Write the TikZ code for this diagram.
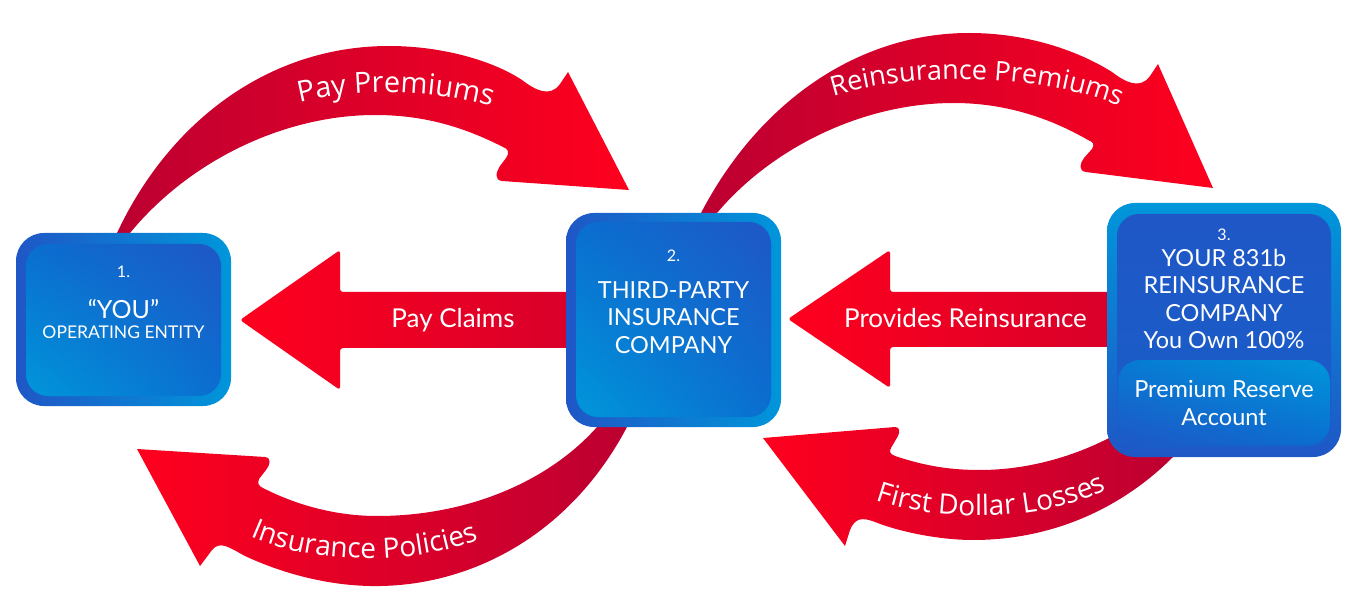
\documentclass[tikz,border=0pt]{standalone}
\usepackage{fontspec}
\setmainfont{Lato}
\newfontfamily\osans{Open Sans}
\usetikzlibrary{decorations.text,shadings}
\definecolor{rbright}{HTML}{FF001E}
\definecolor{rdark}{HTML}{BC0032}
\definecolor{bdark}{HTML}{1F57C6}
\definecolor{blight}{HTML}{0096DA}
\definecolor{bmid}{HTML}{0A6ED0}
\newcommand\setfs[1]{\fontsize{#1}{#1}\selectfont}
\begin{document}
\begin{tikzpicture}[x=1pt,y=-1pt,
  outerh/.style={rectangle, rounded corners=28pt, inner sep=0pt, draw=none, left color=bdark, right color=blight},
  outerv/.style={rectangle, rounded corners=28pt, inner sep=0pt, draw=none, top color=blight, bottom color=bdark},
  innerd/.style={rectangle, rounded corners=22pt, inner sep=0pt, draw=none, upper left=bmid, upper right=bdark, lower left=blight, lower right=bmid},
  txt/.style={text=white, inner sep=0pt, anchor=base},
  curvelbl/.style={decorate, decoration={text along path, text align=center}}
]
\useasboundingbox (0,0) rectangle (1363,612);

% ---------- curved arrows ----------
% Pay Premiums
\shade[left color=rdark, right color=rbright]
 (117,233) .. controls (170,120) and (270,46) .. (389,46)
 .. controls (445,46) and (495,62) .. (522,80)
 .. controls (535,90) and (550,98) .. (560,84)
 -- (568,72) -- (629,190) -- (502,181)
 .. controls (494,180) and (496,172) .. (500,166)
 -- (506,158) .. controls (510,152) and (508,149) .. (503,147)
 .. controls (460,125) and (420,115) .. (375,115)
 .. controls (285,115) and (190,160) .. (130,233) -- cycle;
\path[curvelbl, decoration={text={|\osans\setfs{29pt}\color{white}|Pay Premiums}}]
 (255,118) .. controls (325,83) and (465,83) .. (535,125);

% Reinsurance Premiums
\shade[left color=rdark, right color=rbright]
 (701,213) .. controls (760,100) and (860,33) .. (969,33)
 .. controls (1030,33) and (1080,52) .. (1112,72)
 .. controls (1125,82) and (1140,90) .. (1150,76)
 -- (1158,64) -- (1213,188) -- (1086,172)
 .. controls (1078,171) and (1080,163) .. (1084,158)
 -- (1092,149) .. controls (1095,144) and (1093,142) .. (1088,140)
 .. controls (1050,118) and (1005,103) .. (954,103)
 .. controls (860,103) and (770,150) .. (717,213) -- cycle;
\path[curvelbl, decoration={text={|\osans\setfs{27pt}\color{white}|Reinsurance Premiums}}]
 (790,115) .. controls (870,65) and (1080,65) .. (1160,130);

% Insurance Policies
\shade[left color=rbright, right color=rdark]
 (627,427) .. controls (570,535) and (470,588) .. (370,586)
 .. controls (320,585) and (275,570) .. (245,556)
 .. controls (230,548) and (220,540) .. (212,550)
 -- (200,566) -- (137,449) -- (265,457)
 .. controls (272,458) and (270,465) .. (266,470)
 -- (259,479) .. controls (257,484) and (259,486) .. (263,488)
 .. controls (300,507) and (340,516) .. (377,516)
 .. controls (470,516) and (550,480) .. (597,427) -- cycle;
\path[curvelbl, decoration={text={|\osans\setfs{28pt}\color{white}|Insurance Policies}}]
 (215,515) .. controls (280,572) and (445,572) .. (515,520);

% First Dollar Losses
\shade[left color=rbright, right color=rdark]
 (1173,457) .. controls (1120,510) and (1050,540) .. (973,540)
 .. controls (940,540) and (900,532) .. (875,522)
 .. controls (862,517) and (855,518) .. (850,530)
 -- (845,546) -- (763,438) -- (895,427)
 .. controls (900,427) and (900,432) .. (898,436)
 -- (891,448) .. controls (889,452) and (890,454) .. (895,456)
 .. controls (925,466) and (950,470) .. (980,470)
 .. controls (1030,470) and (1080,455) .. (1120,432) -- cycle;
\path[curvelbl, decoration={text={|\osans\setfs{28pt}\color{white}|First Dollar Losses}}]
 (835,480) .. controls (905,530) and (1075,530) .. (1145,465);

% ---------- straight arrows ----------
\shade[left color=rbright, right color=rdark!60!rbright, rounded corners=3pt]
 (240,320) -- (340,250) -- (340,292) -- (580,292) -- (580,348) -- (340,348) -- (340,390) -- cycle;
\shade[left color=rbright, right color=rdark!60!rbright, rounded corners=3pt]
 (788,319) -- (890,250) -- (890,292) -- (1120,292) -- (1120,347) -- (890,347) -- (890,388) -- cycle;

% ---------- boxes ----------
\node[outerh, minimum width=215pt, minimum height=173pt] (b1) at (123.5,319.5) {};
\node[innerd, minimum width=195pt, minimum height=152pt] (b1i) at (123.5,320) {};
\node[outerh, minimum width=215pt, minimum height=214pt] (b2) at (673.5,320) {};
\node[innerd, minimum width=195pt, minimum height=195pt] (b2i) at (673.5,319.5) {};
\node[outerv, minimum width=234pt, minimum height=254pt] (b3) at (1224,330) {};
\node[rectangle, rounded corners=22pt, inner sep=0pt, top color=bdark, bottom color=bdark!70!bmid, minimum width=214pt, minimum height=233pt] (b3i) at (1224,330.5) {};
\node[rectangle, rounded corners=22pt, inner sep=0pt, upper left=bmid!70!blight, upper right=blight, lower left=bdark, lower right=bmid, minimum width=212pt, minimum height=85pt] (b3r) at (1224,402.5) {};

% ---------- texts ----------
\node[txt, font=\setfs{16pt}] (t1a) at (123.5,277.5) {1.};
\node[txt, font=\setfs{25pt}] (t1b) at (123.5,318.5) {“YOU”};
\node[txt, font=\setfs{17.5pt}] (t1c) at (123.5,338) {OPERATING ENTITY};

\node[txt, font=\setfs{16pt}] (t2a) at (673.5,261.5) {2.};
\node[txt, font=\setfs{23.5pt}] (t2b) at (673.5,298.5) {THIRD-PARTY};
\node[txt, font=\setfs{23.5pt}] (t2c) at (673.5,326) {INSURANCE};
\node[txt, font=\setfs{23.5pt}] (t2d) at (673.5,353.5) {COMPANY};

\node[txt, font=\setfs{16pt}] (t3a) at (1224,240.5) {3.};
\node[txt, font=\setfs{23.5pt}] (t3b) at (1224,266.5) {YOUR 831b};
\node[txt, font=\setfs{23.5pt}] (t3c) at (1224,294) {REINSURANCE};
\node[txt, font=\setfs{23.5pt}] (t3d) at (1224,321.5) {COMPANY};
\node[txt, font=\setfs{23.5pt}] (t3e) at (1224,348.5) {You Own 100\%};
\node[txt, font=\setfs{23.5pt}] (t3f) at (1224,397.5) {Premium Reserve};
\node[txt, font=\setfs{23.5pt}] (t3g) at (1224,425.5) {Account};

\node[txt, font=\setfs{26pt}] (lc) at (453,328) {Pay Claims};
\node[txt, font=\setfs{26pt}] (lr) at (965.5,327) {Provides Reinsurance};
\end{tikzpicture}
\end{document}
